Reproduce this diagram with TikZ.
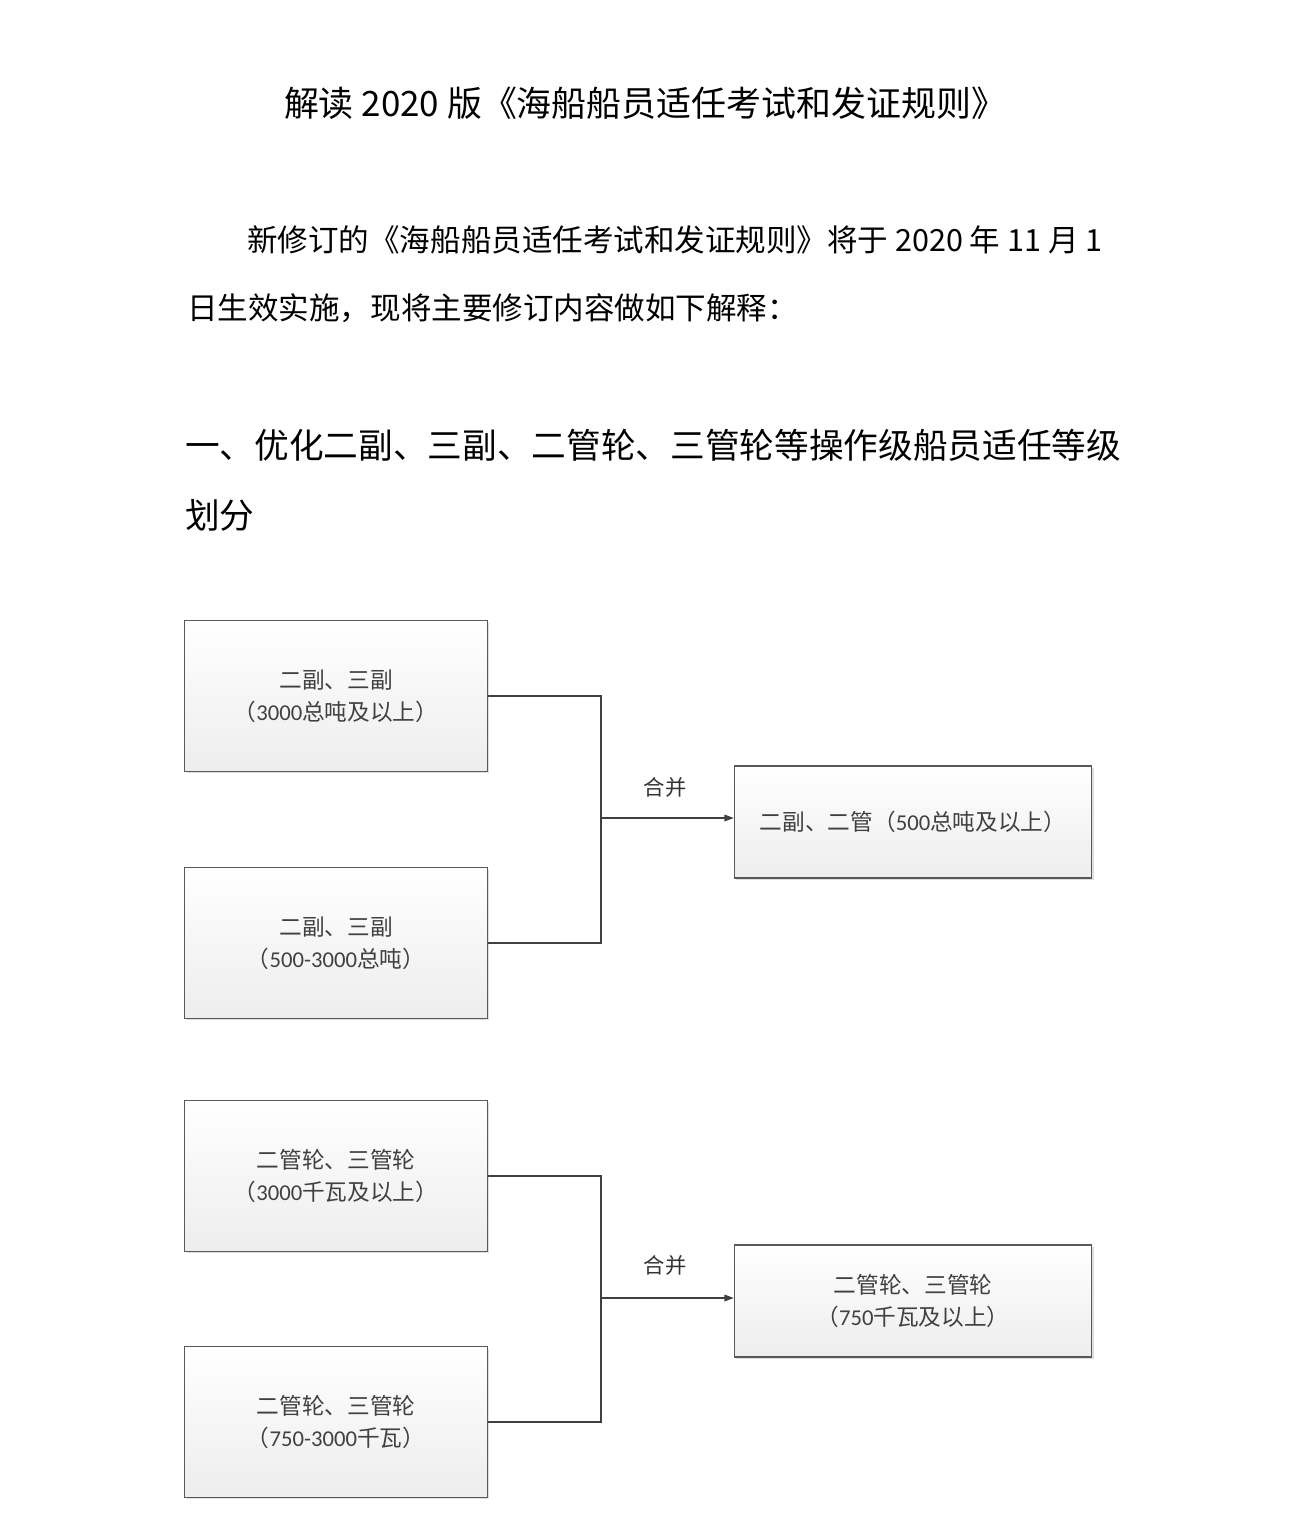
\documentclass[tikz,border=0pt]{standalone}
\usepackage{fontspec}
\newfontfamily\cjk{Noto Sans CJK SC}
\newfontfamily\carl{Carlito}
\usetikzlibrary{shadows,arrows.meta}
\begin{document}
\begin{tikzpicture}[x=0.75pt,y=-0.75pt,
  txt/.style={inner sep=0pt,font=\cjk\fontsize{22.9pt}{27pt}\selectfont,text=black},
  head/.style={inner sep=0pt,font=\cjk\fontsize{26pt}{30pt}\selectfont,text=black},
  bx/.style={draw=black!65,line width=0.8pt,top color=white,bottom color=black!7,
    drop shadow={shadow xshift=1.5pt,shadow yshift=-1.5pt,fill=black!25,opacity=0.5},
    inner sep=0pt,align=center,text=black!75,font=\cjk\fontsize{17pt}{24pt}\selectfont},
  ln/.style={draw=black!75,line width=0.8pt},
  lbl/.style={inner sep=0pt,text=black!80,font=\cjk\fontsize{16pt}{20pt}\selectfont}]
\useasboundingbox[fill=white] (0,0) rectangle (1306,1538);

\node[inner sep=0pt,font=\cjk\fontsize{26.2pt}{30pt}\selectfont] (title) at (645,103) {解读 2020 版《海船船员适任考试和发证规则》};
\node[txt,anchor=west] (p1) at (247,240) {新修订的《海船船员适任考试和发证规则》将于 2020 年 11 月 1};
\node[txt,anchor=west] (p2) at (187,308) {日生效实施，现将主要修订内容做如下解释：};
\node[head,anchor=west] (h1) at (185,445) {一、优化二副、三副、二管轮、三管轮等操作级船员适任等级};
\node[head,anchor=west] (h2) at (185,515) {划分};

% group 1
\node[bx,minimum width=227pt,minimum height=113pt] (a) at (336,696) {二副、三副\\（{\carl 3000}总吨及以上）};
\node[bx,minimum width=227pt,minimum height=113pt] (b) at (336,943) {二副、三副\\（{\carl 500-3000}总吨）};
\node[bx,minimum width=268pt,minimum height=84pt] (c) at (913,822) {二副、二管（{\carl 500}总吨及以上）};
\coordinate (j1) at (601,818);
\draw[ln] (a.east) -| (j1) |- (b.east);
\draw[ln,-{Triangle[length=7pt,width=5pt]}] (j1) -- (c.west |- j1);
\node[lbl] (m1) at (665,787) {合并};

% group 2
\node[bx,minimum width=227pt,minimum height=113pt] (d) at (336,1176) {二管轮、三管轮\\（{\carl 3000}千瓦及以上）};
\node[bx,minimum width=227pt,minimum height=113pt] (e) at (336,1422) {二管轮、三管轮\\（{\carl 750-3000}千瓦）};
\node[bx,minimum width=268pt,minimum height=84pt] (f) at (913,1301) {二管轮、三管轮\\（{\carl 750}千瓦及以上）};
\coordinate (j2) at (601,1298);
\draw[ln] (d.east) -| (j2) |- (e.east);
\draw[ln,-{Triangle[length=7pt,width=5pt]}] (j2) -- (f.west |- j2);
\node[lbl] (m2) at (665,1265) {合并};
\end{tikzpicture}
\end{document}
